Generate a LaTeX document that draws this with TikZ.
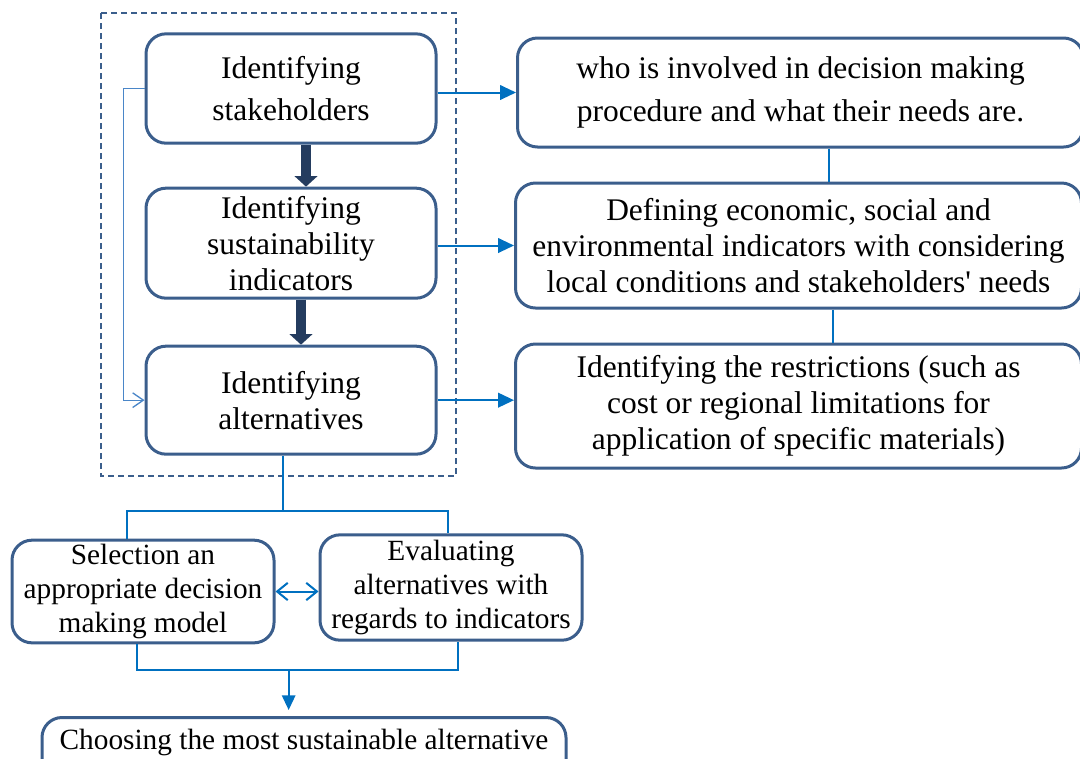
\documentclass[tikz,border=0pt]{standalone}
\usepackage{fontspec}
\newfontfamily\diagfont{Liberation Serif}
\usetikzlibrary{arrows.meta}
\usetikzlibrary{calc}
\usetikzlibrary{positioning}

\definecolor{boxblue}{RGB}{59,94,140}
\definecolor{navy}{RGB}{36,60,95}
\definecolor{linkblue}{RGB}{0,112,192}
\definecolor{sideblue}{RGB}{74,134,200}

\begin{document}
\begin{tikzpicture}[x=0.75pt,y=-0.75pt,
  stage/.style={draw=boxblue,line width=2.25pt,rounded corners=15pt,align=center,inner sep=0pt,minimum width=217.5pt,minimum height=82pt,font=\diagfont\fontsize{23.6}{27}\selectfont},
  fact/.style={stage,minimum width=424.5pt},
  pick/.style={stage,minimum width=196.5pt,font=\diagfont\fontsize{22}{25.5}\selectfont},
  link/.style={draw=linkblue,line width=1.5pt},
  bigarrow/.style={draw=navy,line width=7.5pt,-{Triangle[length=8pt,width=17pt]}}]

\useasboundingbox (0,0) rectangle (1080,758);

\node[stage,font=\diagfont\fontsize{23.6}{31.5}\selectfont] (b1) at (291,88.5) {Identifying\\stakeholders};
\node[stage,below=31.5pt of b1,minimum height=82.5pt] (b2) {Identifying\\sustainability\\indicators};
\node[stage,below=33.75pt of b2,minimum height=81pt] (b3) {Identifying\\alternatives};

\node[fact,anchor=west,minimum height=81.75pt,font=\diagfont\fontsize{23.6}{32}\selectfont] (r1) at (516,92.5) {who is involved in decision making\\procedure and what their needs are.};
\node[fact,anchor=west,minimum height=93.75pt] (r2) at (514,245.5) {Defining economic, social and\\environmental indicators with considering\\local conditions and stakeholders' needs};
\node[fact,anchor=west,minimum height=93pt] (r3) at (514,406) {Identifying the restrictions (such as\\cost or regional limitations for\\application of specific materials)};

\node[pick,minimum height=77pt] (s) at (143,591.5) {Selection an\\appropriate decision\\making model};
\node[pick,minimum height=79pt] (e) at (451,587.5) {Evaluating\\alternatives with\\regards to indicators};
\node[pick,anchor=north,minimum width=393pt,minimum height=0pt,inner ysep=9pt,text depth=30pt] (c) at (304,716) {Choosing the most sustainable alternative};

% dashed frame round the three steps
\draw[draw=boxblue,line width=1.5pt,dash pattern=on 4.5pt off 3pt] (101,13) rectangle (456,476);

\draw[bigarrow] ([xshift=11.25pt]b1.south) -- ([xshift=11.25pt]b2.north);
\draw[bigarrow] ([xshift=7.5pt]b2.south) -- ([xshift=7.5pt]b3.north);

\draw[draw=sideblue,line width=1pt,-{Straight Barb[length=8pt,width=11pt]}] (b1.west) -- ++(-21,0) |- (b3.west);

\draw[link,-{Triangle[length=12pt,width=11pt]}] (r1.west -| b1.east) -- (r1.west);
\draw[link,-{Triangle[length=12pt,width=11pt]}] (r2.west -| b2.east) -- (r2.west);
\draw[link,-{Triangle[length=12pt,width=11pt]}] (b3.east) -- (b3.east -| r3.west);

\coordinate (p) at ($(r1.south west)!0.55!(r1.south east)$);
\coordinate (q) at ($(r2.south west)!0.56!(r2.south east)$);
\draw[link] (p) -- (p |- r2.north);
\draw[link] (q) -- (q |- r3.north);

% split to the two tasks
\draw[link] ([xshift=-6pt]b3.south) -- ++(0,55) coordinate (split);
\draw[link] ([xshift=-12pt]s.north) |- (split) -| ([xshift=-2.25pt]e.north);
\draw[link,{Straight Barb[length=8pt,width=13pt]}-{Straight Barb[length=8pt,width=13pt]}] (s.east) -- (s.east -| e.west);

% merge to the choice
\draw[link] ([xshift=-4.5pt]s.south) -- ++(0,26) coordinate (m1) -| ([xshift=5.25pt]e.south);
\coordinate (merge) at ($(m1)!0.483!(m1 -| e.south)$);
\draw[link,-{Triangle[length=11pt,width=10pt]},shorten >=4.5pt] (merge) -- (merge |- c.north);

\end{tikzpicture}
\end{document}
